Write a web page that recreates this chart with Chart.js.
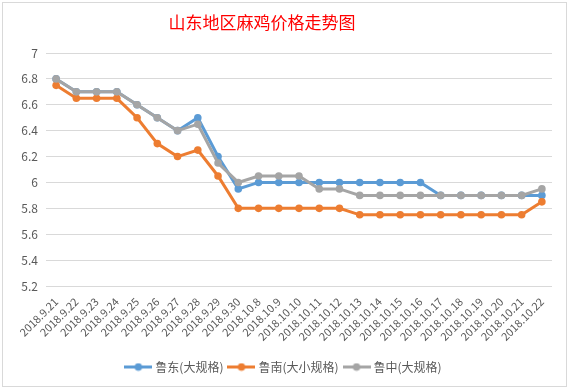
<!DOCTYPE html>
<html>
<head>
<meta charset="utf-8">
<script src="https://cdn.jsdelivr.net/npm/chart.js@4/dist/chart.umd.min.js"></script>
<style>
  html, body { margin: 0; padding: 0; background: #fff; }
  #wrap { position: relative; width: 569px; height: 389px; }
</style>
</head>
<body>
<div id="wrap"><canvas id="priceChart" width="569" height="389"></canvas></div>
<script>
// dates on the x axis
const dates = [
  "2018.9.21", "2018.9.22", "2018.9.23", "2018.9.24", "2018.9.25",
  "2018.9.26", "2018.9.27", "2018.9.28", "2018.9.29", "2018.9.30",
  "2018.10.8", "2018.10.9", "2018.10.10", "2018.10.11", "2018.10.12",
  "2018.10.13", "2018.10.14", "2018.10.15", "2018.10.16", "2018.10.17",
  "2018.10.18", "2018.10.19", "2018.10.20", "2018.10.21", "2018.10.22"
];

// 鲁东(大规格)
const ludong = [6.8, 6.7, 6.7, 6.7, 6.6, 6.5, 6.4, 6.5, 6.2, 5.95,
  6.0, 6.0, 6.0, 6.0, 6.0, 6.0, 6.0, 6.0, 6.0, 5.9,
  5.9, 5.9, 5.9, 5.9, 5.9];
// 鲁南(大小规格)
const lunan = [6.75, 6.65, 6.65, 6.65, 6.5, 6.3, 6.2, 6.25, 6.05, 5.8,
  5.8, 5.8, 5.8, 5.8, 5.8, 5.75, 5.75, 5.75, 5.75, 5.75,
  5.75, 5.75, 5.75, 5.75, 5.85];
// 鲁中(大规格)
const luzhong = [6.8, 6.7, 6.7, 6.7, 6.6, 6.5, 6.4, 6.45, 6.15, 6.0,
  6.05, 6.05, 6.05, 5.95, 5.95, 5.9, 5.9, 5.9, 5.9, 5.9,
  5.9, 5.9, 5.9, 5.9, 5.95];

const seriesNames = ["鲁东(大规格)", "鲁南(大小规格)", "鲁中(大规格)"];
const seriesColors = ["#5B9BD5", "#ED7D31", "#A5A5A5"];
const chartTitle = "山东地区麻鸡价格走势图";

const yMin = 5.2, yMax = 7, yStep = 0.2;

const textColor = "#595959";
const fontFam = "'Noto Sans CJK SC', 'Noto Sans', sans-serif";

// legend marker: short line with a dot in the middle
function legendMarker(color) {
  const c = document.createElement("canvas");
  c.width = 28; c.height = 9;
  const g = c.getContext("2d");
  g.strokeStyle = color;
  g.lineWidth = 3;
  g.beginPath(); g.moveTo(0, 4.5); g.lineTo(28, 4.5); g.stroke();
  g.fillStyle = color;
  g.beginPath(); g.arc(14, 4.5, 3.8, 0, Math.PI * 2); g.fill();
  return c;
}
const markers = seriesColors.map(legendMarker);

// white card with a thin grey frame + the title (sits a bit left of centre in the original)
const framePlugin = {
  id: "frame",
  beforeDraw(chart) {
    const ctx = chart.ctx;
    ctx.save();
    ctx.fillStyle = "#fff";
    ctx.fillRect(0, 0, chart.width, chart.height);
    ctx.strokeStyle = "#d9d9d9";
    ctx.lineWidth = 1;
    ctx.strokeRect(2.5, 2.5, 564, 384);
    ctx.restore();
  },
  afterDraw(chart) {
    const ctx = chart.ctx;
    ctx.save();
    ctx.fillStyle = "#FF0000";
    ctx.font = "17px " + fontFam;
    ctx.textAlign = "center";
    ctx.textBaseline = "middle";
    ctx.fillText(chartTitle, 262, 23);
    ctx.restore();
  }
};

const allSeries = [ludong, lunan, luzhong];

new Chart(document.getElementById("priceChart"), {
  type: "line",
  data: {
    labels: dates,
    datasets: allSeries.map((vals, i) => ({
      label: seriesNames[i],
      data: vals,
      borderColor: seriesColors[i],
      backgroundColor: seriesColors[i],
      pointBackgroundColor: seriesColors[i],
      pointBorderColor: seriesColors[i],
      borderWidth: 3,
      pointRadius: 3.8,
      pointBorderWidth: 0,
      tension: 0,
      order: 2 - i   // grey drawn on top, like excel
    }))
  },
  options: {
    responsive: false,
    animation: false,
    devicePixelRatio: 1,
    layout: { padding: { top: 53, right: 17, bottom: 6, left: 17 } },
    plugins: {
      title: { display: false },
      legend: {
        position: "bottom",
        labels: {
          usePointStyle: true,
          pointStyleWidth: 22,
          padding: 7,
          color: textColor,
          font: { family: fontFam, size: 12 },
          sort: (a, b) => a.datasetIndex - b.datasetIndex,
          generateLabels(chart) {
            return chart.data.datasets.map((ds, i) => ({
              text: ds.label,
              fillStyle: ds.borderColor,
              strokeStyle: ds.borderColor,
              fontColor: textColor,
              pointStyle: markers[i],
              lineWidth: 0,
              hidden: !chart.isDatasetVisible(i),
              datasetIndex: i
            }));
          }
        }
      },
      tooltip: { enabled: false }
    },
    scales: {
      x: {
        offset: true,
        grid: { display: false, drawTicks: false },
        border: { display: false },
        ticks: {
          autoSkip: false,
          minRotation: 45,
          maxRotation: 45,
          padding: 9,
          color: textColor,
          font: { family: fontFam, size: 11 }
        },
        afterFit(scale) { scale.height = 68; }
      },
      y: {
        min: yMin,
        max: yMax,
        grid: { color: "#d9d9d9", lineWidth: 1, drawTicks: false },
        border: { display: false },
        ticks: {
          stepSize: yStep,
          padding: 8,
          color: textColor,
          font: { family: fontFam, size: 12 },
          callback: v => String(Number(v.toFixed(1)))
        },
        afterFit(scale) { scale.width = 29; }
      }
    }
  },
  plugins: [framePlugin]
});
</script>
</body>
</html>
